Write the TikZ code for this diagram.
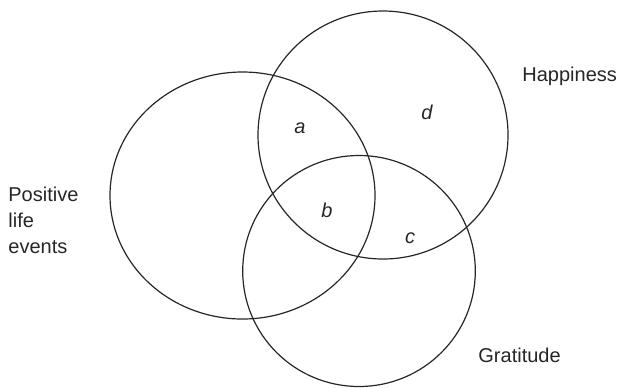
\documentclass[tikz,border=0pt]{standalone}
\usepackage{fontspec}
\setmainfont{Liberation Sans}
\usetikzlibrary{positioning}

\begin{document}
\begin{tikzpicture}[
  x=0.5pt, y=-0.5pt,
  set/.style={draw=black!85, line width=0.6pt},
  setname/.style={anchor=base west, inner sep=0pt, text=black!85,
                  font=\fontsize{10}{12.9}\selectfont},
  region/.style={inner sep=0pt, text=black!85, font=\fontsize{10}{12}\selectfont\itshape}
]
\useasboundingbox (0,0) rectangle (619,387);

% the three sets
\draw[set] (242.5,195.5) ellipse [x radius=132.5, y radius=123.5];
\draw[set] (383,135) ellipse [x radius=125, y radius=124];
\draw[set] (359,271) ellipse [x radius=116.3, y radius=115.5];

% set names (base of a multi-line node is its last line)
\node[setname, align=left] (pos) at (8,253) {Positive\\life\\events};
\node[setname] (hap) at (522,81) {Happiness};
\node[setname] (gra) at (478,362.7) {Gratitude};

% regions
\node[region] (a) at (300,128) {a};
\node[region] (b) at (327,210) {b};
\node[region] (c) at (410,238) {c};
\node[region] (d) at (427,112) {d};
\end{tikzpicture}
\end{document}
